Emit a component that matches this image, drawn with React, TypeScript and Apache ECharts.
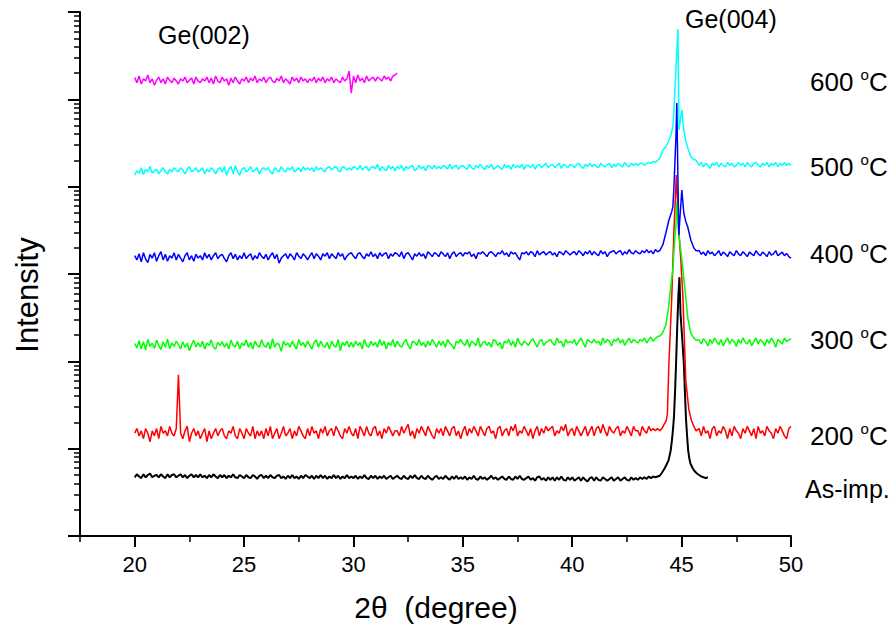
import React, { useEffect, useRef } from 'react';
import * as echarts from 'echarts';

// ---- sampling grid (2θ in degrees) ----
const STEP = 0.1;
const BASE_START = 20.0; // baseline arrays: 20.0 .. 43.9
const TAIL_START = 45.8; // tail arrays: 45.8 .. 50.0

// ---- x axis tick labels ----
const xTickLabels = [20, 25, 30, 35, 40, 45, 50];
const xMinorStep = 2.5;
// ---- y axis (log) ----
const yDecadeExponents = [0, 1, 2, 3, 4, 5];
const yMinorMultipliers = [2, 3, 4, 5, 6, 7, 8, 9];

// ---- As-implanted (black) ----
const blackBase = [
  4.7,5.1,4.8,4.6,5.1,4.7,5.0,5.2,4.7,4.9,
  5.0,4.7,5.1,4.8,4.6,5.1,4.7,5.0,5.1,4.7,
  4.9,5.1,4.7,5.0,4.6,4.9,5.1,4.7,5.0,4.7,
  5.1,4.7,4.9,4.6,5.0,4.7,5.1,4.8,4.6,5.0,
  4.7,5.0,4.6,4.9,4.7,5.1,4.7,4.6,5.0,4.8,
  4.6,5.0,4.7,4.6,5.0,4.8,4.5,4.9,5.0,4.6,
  4.9,4.6,5.0,4.7,4.6,4.9,5.0,4.6,4.8,4.5,
  4.9,4.6,5.0,4.6,4.8,4.5,4.9,4.6,5.0,4.8,
  4.6,4.9,4.5,4.9,4.6,5.0,4.6,4.9,4.5,4.8,
  4.6,5.0,4.6,4.9,4.5,4.8,4.6,5.0,4.6,4.8,
  4.6,4.9,4.5,4.8,4.6,5.0,4.6,4.5,4.9,4.6,
  4.9,4.5,4.8,4.6,4.9,4.5,4.7,4.9,4.5,4.7,
  4.9,4.6,4.5,4.9,4.6,4.5,4.9,4.6,5.0,4.6,
  4.5,4.9,4.6,4.5,4.9,4.6,4.4,4.7,4.9,4.5,
  4.7,4.5,4.9,4.6,4.4,4.8,4.5,4.9,4.5,4.7,
  4.5,4.8,4.4,4.7,4.5,4.9,4.5,4.4,4.8,4.5,
  4.7,4.4,4.6,4.9,4.5,4.7,4.4,4.6,4.8,4.5,
  4.4,4.8,4.5,4.4,4.8,4.5,4.9,4.5,4.4,4.6,
  4.8,4.4,4.6,4.3,4.7,4.8,4.4,4.6,4.3,4.7,
  4.4,4.7,4.3,4.7,4.4,4.8,4.4,4.3,4.7,4.4,
  4.7,4.3,4.5,4.7,4.3,4.7,4.4,4.2,4.6,4.7,
  4.3,4.7,4.4,4.3,4.7,4.5,4.3,4.5,4.7,4.3,
  4.5,4.7,4.3,4.5,4.7,4.4,4.3,4.7,4.4,4.6,
  4.4,4.7,4.5,4.7,4.5,4.8,4.6,4.8,4.7,4.8,
];
const blackPeak = [
  [44.0,4.9],[44.1,5.3],[44.2,5.8],[44.3,6.5],[44.4,7.3],[44.5,9.5],[44.55,12],[44.6,16],
  [44.65,23],[44.7,45],[44.75,100],[44.8,250],[44.85,550],[44.9,920],[44.95,350],[45.0,230],
  [45.05,150],[45.1,96],[45.15,45],[45.2,22],[45.25,14],[45.3,9.5],[45.35,7.8],[45.4,6.8],
  [45.5,6.0],[45.6,5.5],[45.7,5.2],[45.8,5.0],[45.9,4.8],[46.0,4.7],[46.1,4.6],[46.2,4.7],
];

// ---- 200 °C (red) ----
const redBase = [
  15,17,14,16,13,17,15,12,16,14,
  17,13,18,15,16,14,18,15,14,17,
  70,15,13,16,18,12,15,17,14,16,
  13,15,17,12,16,13,15,17,14,16,
  17,14,13,16,15,18,14,13,17,15,
  13,17,15,14,18,13,16,14,16,13,
  17,14,18,13,15,17,13,15,18,14,
  15,17,13,16,14,18,16,14,13,17,
  14,18,15,16,13,17,15,18,14,16,
  17,14,18,16,14,13,17,15,18,15,
  14,17,13,18,16,14,18,15,14,17,
  18,14,16,13,17,15,18,16,14,16,
  16,14,18,15,17,19,14,16,13,17,
  15,18,16,14,18,16,14,13,17,15,
  17,14,18,16,14,17,18,14,16,13,
  16,18,14,17,15,18,16,14,18,16,
  14,17,18,15,16,13,17,18,14,16,
  17,14,18,16,19,14,16,15,18,16,
  14,17,13,16,18,14,17,15,18,16,
  17,18,14,16,15,18,16,19,14,16,
  17,14,18,16,14,16,18,14,16,18,
  14,17,18,15,19,16,14,18,16,15,
  17,18,14,16,15,18,16,14,18,16,
  16,14,18,16,15,18,16,17,16,17,
];
const redPeak = [
  [44.0,16],[44.1,17],[44.2,19],[44.3,21],[44.35,25],[44.42,96],[44.55,545],[44.65,3200],
  [44.76,13600],[44.87,3200],[44.96,1500],[45.06,545],[45.19,61],[45.33,28],[45.45,21],
  [45.56,18],[45.66,16],
];
const redTail = [
  17,14,18,15,16,13,17,18,14,16,
  15,18,16,13,17,14,18,16,15,13,
  17,15,18,16,14,17,13,18,15,16,
  14,18,16,15,13,17,15,18,16,14,
  13,17,18,
];

// ---- 300 °C (green) ----
const greenBase = [
  160,142,172,138,168,135,178,148,162,140,
  175,152,136,168,145,180,140,162,148,170,
  155,138,168,145,162,132,156,175,146,163,
  146,170,138,162,152,176,145,138,165,152,
  168,145,162,138,175,152,146,170,138,162,
  152,176,145,165,138,170,152,145,176,152,
  145,165,138,182,145,162,155,130,170,152,
  162,145,170,152,138,178,152,165,145,170,
  152,138,165,176,145,170,152,145,165,138,
  170,152,145,178,132,165,152,170,145,165,
  145,170,152,165,138,178,152,145,170,152,
  165,145,178,152,170,138,165,152,178,145,
  170,152,145,165,178,152,138,170,165,152,
  178,152,165,145,170,152,178,162,145,170,
  152,170,145,178,162,152,138,170,162,178,
  162,152,178,145,170,162,152,185,145,162,
  170,152,165,145,178,170,152,165,138,170,
  162,178,152,170,145,185,162,152,170,162,
  152,170,182,162,145,170,178,152,165,170,
  178,162,152,185,162,170,145,178,162,170,
  162,178,152,170,185,162,145,178,170,162,
  178,162,170,152,185,162,178,170,150,178,
  170,185,162,178,152,170,185,162,178,170,
  162,178,170,185,162,178,190,170,182,192,
];
const greenPeak = [
  [44.0,195],[44.1,205],[44.19,230],[44.28,260],[44.42,440],[44.51,750],[44.6,1120],
  [44.65,1870],[44.74,3650],[44.78,6650],[44.87,2800],[44.96,1870],[45.06,1120],
  [45.19,545],[45.28,315],[45.42,210],[45.56,185],[45.66,175],
];
const greenTail = [
  175,158,182,168,150,178,160,185,168,155,
  178,150,168,185,158,178,168,148,178,160,
  185,168,158,178,150,168,185,158,178,168,
  150,178,160,185,168,145,178,168,158,185,
  168,175,182,
];

// ---- 400 °C (blue) ----
const blueBase = [
  1620,1450,1700,1380,1750,1480,1350,1680,1520,1750,
  1400,1620,1800,1450,1680,1400,1620,1520,1750,1450,
  1680,1520,1380,1620,1750,1450,1620,1400,1680,1520,
  1620,1450,1750,1520,1680,1450,1620,1750,1500,1620,
  1680,1500,1380,1620,1750,1500,1680,1450,1620,1500,
  1750,1500,1620,1700,1450,1620,1500,1750,1600,1500,
  1680,1450,1620,1750,1500,1680,1330,1520,1620,1700,
  1500,1700,1600,1450,1750,1600,1500,1700,1600,1450,
  1600,1750,1500,1700,1600,1450,1700,1600,1750,1500,
  1700,1600,1500,1750,1600,1700,1450,1600,1700,1750,
  1600,1500,1700,1750,1580,1500,1700,1600,1800,1580,
  1700,1500,1750,1600,1700,1750,1500,1700,1600,1750,
  1700,1580,1800,1500,1700,1750,1600,1450,1700,1600,
  1750,1600,1700,1500,1800,1700,1580,1750,1700,1580,
  1800,1700,1580,1750,1500,1700,1800,1580,1700,1750,
  1600,1750,1700,1800,1580,1700,1500,1750,1700,1800,
  1700,1580,1750,1800,1700,1580,1750,1700,1850,1650,
  1750,1580,1800,1700,1750,1580,1450,1750,1700,1800,
  1650,1800,1750,1580,1850,1650,1750,1800,1650,1750,
  1800,1650,1750,1580,1800,1750,1650,1850,1750,1650,
  1750,1800,1650,1850,1750,1620,1800,1700,1850,1650,
  1800,1700,1620,1850,1700,1800,1580,1750,1800,1850,
  1700,1800,1850,1650,1800,1700,1900,1750,1700,1850,
  1750,1700,1850,1750,1900,1750,1850,1700,1900,1800,
];
const bluePeak = [
  [44.0,1850],[44.14,2150],[44.28,2950],[44.42,4150],[44.55,5200],[44.6,5840],
  [44.65,10000],[44.74,37000],[44.78,91000],[44.87,2800],[45.01,9150],[45.1,5000],
  [45.19,4000],[45.28,3450],[45.42,2450],[45.56,1990],[45.66,1850],
];
const blueTail = [
  1850,1680,1780,1620,1850,1700,1780,1620,1720,1850,
  1620,1780,1700,1580,1800,1700,1620,1850,1700,1620,
  1800,1700,1580,1780,1700,1620,1850,1700,1620,1780,
  1700,1580,1800,1650,1700,1850,1620,1700,1780,1620,
  1720,1580,1520,
];

// ---- 500 °C (cyan) ----
const cyanBase = [
  13500,15200,14200,16500,13800,15800,14800,17000,14200,15200,
  15800,14000,15200,16500,14800,14000,15800,14800,16500,15500,
  14800,16500,15500,14000,15800,17000,14800,15500,16500,14800,
  15500,16500,14000,15800,14800,16500,15500,14000,15800,16500,
  14800,17000,13500,15800,17000,14000,17500,14800,13500,15800,
  16500,14800,15500,17000,14800,15500,16500,14000,15800,16500,
  15500,16500,14800,14000,16500,15500,14800,17000,15500,14800,
  16500,15500,17000,14800,15500,16500,14800,17000,15500,16500,
  15500,16500,14800,17000,15500,16500,15500,14800,16500,17000,
  15500,16500,17000,15500,14800,17000,16500,15500,16500,15500,
  17000,16500,15500,17500,15500,16500,17000,15200,16500,17000,
  16000,18000,15200,17000,16000,15200,17500,16000,17000,15200,
  17000,16000,17500,15200,17000,16000,17000,17500,15200,16000,
  17500,16000,17000,15200,17500,17000,16000,17500,16000,17000,
  16000,17500,17000,15800,18000,16000,17000,17500,15800,17000,
  17500,16500,15800,18000,16500,15800,17500,16500,18000,16500,
  15800,17500,16500,18000,15800,16500,17500,16500,15800,18000,
  16500,17500,15800,18000,16500,17500,16500,18000,15800,17500,
  17500,16500,18000,15800,17500,18000,16500,17500,18500,16500,
  17500,18000,16500,17500,18500,16200,18000,17500,16500,18000,
  17500,16500,18000,18500,17000,16200,18000,17000,18500,17000,
  18000,17000,16500,18500,17500,16800,18000,18500,16500,18000,
  17000,18500,17500,16800,19000,17500,16800,18500,17500,18500,
  17500,18500,18500,17500,18500,19000,18500,19500,19000,20000,
];
const cyanPeak = [
  [44.0,21000],[44.14,26300],[44.25,28000],[44.37,31800],[44.5,38000],[44.6,48500],
  [44.65,76000],[44.74,218000],[44.83,640000],[44.88,44600],[45.01,76000],[45.1,44600],
  [45.19,33000],[45.28,28000],[45.42,22000],[45.55,20500],[45.65,20200],[45.72,19000],
];
const cyanTail = [
  17500,19000,16800,18500,17500,16200,18500,17500,19000,16800,
  18500,17500,16800,19000,17500,18500,16800,17500,19000,17500,
  18500,16800,19000,17500,16800,18500,19000,17500,16800,18500,
  17500,19000,16800,18500,17500,19000,16800,18500,17500,19000,
  17500,18500,17500,
];

// ---- 600 °C (magenta), 20.0 .. 32.0 ----
const magentaBase = [
  178000,155000,185000,150000,172000,162000,190000,155000,172000,145000,
  165000,180000,155000,172000,150000,180000,165000,155000,175000,162000,
  150000,172000,162000,180000,155000,165000,175000,150000,180000,162000,
  155000,172000,162000,180000,155000,175000,150000,185000,162000,155000,
  180000,162000,172000,145000,175000,155000,180000,162000,150000,172000,
  162000,180000,155000,175000,162000,185000,155000,172000,162000,180000,
  155000,172000,180000,162000,155000,175000,162000,185000,155000,172000,
  162000,150000,180000,162000,175000,155000,180000,162000,172000,155000,
  172000,162000,180000,155000,175000,162000,180000,155000,172000,162000,
  180000,155000,172000,162000,155000,180000,162000,172000,210000,118000,
  185000,155000,190000,162000,175000,155000,185000,162000,172000,180000,
  162000,180000,172000,162000,185000,170000,180000,162000,185000,190000,
  200000,
];

// ---- labels ----
const curveTemps = ['600', '500', '400', '300', '200'];
const curveLabelY = [82, 167, 254, 340, 436];
const peakLabels = ['Ge(002)', 'Ge(004)'];

const FONT = '"Liberation Sans", Arial, Helvetica, sans-serif';

function onGrid(start: number, values: number[]) {
  return values.map((v, i) => [Math.round((start + i * STEP) * 100) / 100, v]);
}

function buildSeries(name: string, color: string, data: number[][], width = 1.5) {
  return {
    name,
    type: 'line',
    data,
    xAxisIndex: 0,
    yAxisIndex: 0,
    showSymbol: false,
    symbol: 'none',
    lineStyle: { color, width },
    itemStyle: { color },
    z: 3,
  };
}

export default function App() {
  const ref = useRef<HTMLDivElement>(null);
  useEffect(() => {
    if (!ref.current) return;
    const chart = echarts.init(ref.current, null, { renderer: 'svg' });

    const minorTickPos: number[] = [];
    yDecadeExponents.forEach((e) =>
      yMinorMultipliers.forEach((m) => minorTickPos.push(e + Math.log10(m)))
    );

    const blackData = [...onGrid(BASE_START, blackBase), ...blackPeak];
    const redData = [...onGrid(BASE_START, redBase), ...redPeak, ...onGrid(TAIL_START, redTail)];
    const greenData = [...onGrid(BASE_START, greenBase), ...greenPeak, ...onGrid(TAIL_START, greenTail)];
    const blueData = [...onGrid(BASE_START, blueBase), ...bluePeak, ...onGrid(TAIL_START, blueTail)];
    const cyanData = [...onGrid(BASE_START, cyanBase), ...cyanPeak, ...onGrid(TAIL_START, cyanTail)];
    const magentaData = onGrid(BASE_START, magentaBase);

    const tempRich = {
      n: { fontSize: 26, fontFamily: FONT, color: '#000', lineHeight: 30, verticalAlign: 'middle' },
      s: { fontSize: 15, fontFamily: FONT, color: '#000', lineHeight: 14, verticalAlign: 'top' },
    };

    const graphics: any[] = [
      {
        type: 'text',
        x: 27,
        y: 295,
        rotation: Math.PI / 2,
        style: { text: 'Intensity', font: `31px ${FONT}`, fill: '#000', textAlign: 'center', textVerticalAlign: 'middle' },
      },
      {
        type: 'text',
        x: 436,
        y: 607,
        style: { text: '2θ  (degree)', font: `30px ${FONT}`, fill: '#000', textAlign: 'center', textVerticalAlign: 'middle' },
      },
      {
        type: 'text',
        x: 158,
        y: 35,
        style: { text: peakLabels[0], font: `25px ${FONT}`, fill: '#000', textAlign: 'left', textVerticalAlign: 'middle' },
      },
      {
        type: 'text',
        x: 685,
        y: 19,
        style: { text: peakLabels[1], font: `25px ${FONT}`, fill: '#000', textAlign: 'left', textVerticalAlign: 'middle' },
      },
      ...curveTemps.map((t, i) => ({
        type: 'text',
        x: 810,
        y: curveLabelY[i],
        style: {
          text: `{n|${t} }{s|o}{n|C}`,
          rich: tempRich,
          textAlign: 'left',
          textVerticalAlign: 'middle',
        },
      })),
      {
        type: 'text',
        x: 805,
        y: 489,
        style: { text: 'As-imp.', font: `25px ${FONT}`, fill: '#000', textAlign: 'left', textVerticalAlign: 'middle' },
      },
    ];

    chart.setOption({
      animation: false,
      backgroundColor: '#fff',
      grid: { left: 80, top: 12, width: 711, height: 524, containLabel: false },
      xAxis: [
        {
          type: 'value',
          min: 17.5,
          max: 50,
          interval: xMinorStep,
          position: 'bottom',
          axisLine: { show: true, onZero: false, lineStyle: { color: '#000', width: 2 } },
          axisTick: { show: true, inside: false, length: 6, lineStyle: { color: '#000', width: 1.5 } },
          axisLabel: {
            show: true,
            customValues: xTickLabels,
            margin: 17,
            fontSize: 22,
            fontFamily: FONT,
            color: '#000',
          },
          splitLine: { show: false },
        },
        {
          type: 'value',
          min: 17.5,
          max: 50,
          position: 'bottom',
          axisLine: { show: false, onZero: false },
          axisTick: { show: true, inside: false, length: 11, customValues: xTickLabels, lineStyle: { color: '#000', width: 2 } },
          axisLabel: { show: false, customValues: xTickLabels },
          splitLine: { show: false },
        },
      ],
      yAxis: [
        {
          type: 'log',
          logBase: 10,
          min: 1,
          max: 1e6,
          position: 'left',
          axisLine: { show: true, onZero: false, lineStyle: { color: '#000', width: 2 } },
          axisTick: { show: true, inside: false, length: 12, lineStyle: { color: '#000', width: 2 } },
          axisLabel: { show: false },
          splitLine: { show: false },
        },
        {
          type: 'value',
          min: 0,
          max: 6,
          position: 'left',
          axisLine: { show: false, onZero: false },
          axisTick: { show: true, inside: false, length: 6, customValues: minorTickPos, lineStyle: { color: '#000', width: 1.5 } },
          axisLabel: { show: false, customValues: minorTickPos },
          splitLine: { show: false },
        },
      ],
      graphic: graphics,
      series: [
        buildSeries('As-imp.', '#000000', blackData, 2),
        buildSeries('200 °C', '#ff0000', redData),
        buildSeries('300 °C', '#00ff00', greenData),
        buildSeries('400 °C', '#0000ff', blueData),
        buildSeries('500 °C', '#00ffff', cyanData),
        buildSeries('600 °C', '#ff00ff', magentaData),
      ],
    });

    return () => chart.dispose();
  }, []);

  return (
    <div
      ref={ref}
      style={{ position: 'fixed', left: 0, top: 0, width: 893, height: 627, background: '#fff' }}
    />
  );
}
